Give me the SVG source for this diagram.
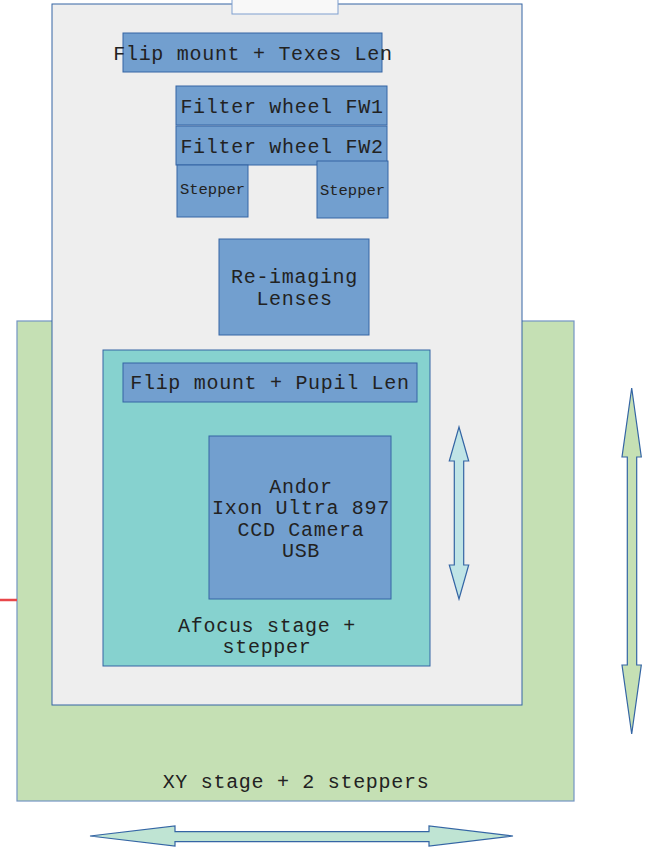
<svg xmlns="http://www.w3.org/2000/svg" width="648" height="847" viewBox="0 0 648 847">
<style>
.lbl{font-family:"Liberation Mono","DejaVu Sans Mono",monospace;font-size:20px;letter-spacing:0.7px;fill:#222222;text-anchor:middle}
.sm{font-family:"Liberation Mono","DejaVu Sans Mono",monospace;font-size:15.5px;fill:#222222;text-anchor:middle}
.blue{fill:#729fcf;stroke:#3465a4;stroke-width:1}
.arrow{stroke:#3465a4;stroke-width:1.2;stroke-linejoin:miter}
</style>
<rect width="648" height="847" fill="#ffffff"/>
<g id="xy-stage">
<rect x="17" y="321" width="557" height="480" fill="#c5e0b4" stroke="#7394c4" stroke-width="1.2"/>
<text class="lbl" x="296" y="788">XY stage + 2 steppers</text>
</g>
<g id="housing">
<rect x="52" y="4" width="470" height="701" fill="#eeeeee" stroke="#3465a4" stroke-width="1"/>
</g>
<g id="tab">
<rect x="232" y="-1" width="106" height="15" fill="#f8f8f8" stroke="#7f9fcf" stroke-width="1"/>
</g>
<g id="flip-texes">
<rect class="blue" x="123" y="33" width="259" height="39"/>
<text class="lbl" x="253" y="60">Flip mount + Texes Len</text>
</g>
<g id="fw1">
<rect class="blue" x="176" y="86" width="211" height="39"/>
<text class="lbl" x="282" y="113">Filter wheel FW1</text>
</g>
<g id="fw2">
<rect class="blue" x="176" y="126" width="211" height="39"/>
<text class="lbl" x="282" y="153">Filter wheel FW2</text>
</g>
<g id="stepper-left">
<rect class="blue" x="177" y="165" width="71" height="52"/>
<text class="sm" x="212.5" y="194">Stepper</text>
</g>
<g id="stepper-right">
<rect class="blue" x="317" y="161" width="71" height="57"/>
<text class="sm" x="352.5" y="195">Stepper</text>
</g>
<g id="reimaging">
<rect class="blue" x="219" y="239" width="150" height="96"/>
<text class="lbl" x="294.5" y="283">Re-imaging</text>
<text class="lbl" x="294.5" y="305">Lenses</text>
</g>
<g id="afocus-stage">
<rect x="103" y="350" width="327" height="316" fill="#86d2cf" stroke="#3465a4" stroke-width="1"/>
<text class="lbl" x="267" y="632">Afocus stage +</text>
<text class="lbl" x="267" y="653">stepper</text>
</g>
<g id="flip-pupil">
<rect class="blue" x="123" y="363" width="294" height="39"/>
<text class="lbl" x="270" y="389">Flip mount + Pupil Len</text>
</g>
<g id="camera">
<rect class="blue" x="209" y="436" width="182" height="163"/>
<text class="lbl" x="301" y="493">Andor</text>
<text class="lbl" x="301" y="514">Ixon Ultra 897</text>
<text class="lbl" x="301" y="536">CCD Camera</text>
<text class="lbl" x="301" y="557">USB</text>
</g>
<g id="connectors">
<line x1="0" y1="600" x2="17" y2="600" stroke="#e8474a" stroke-width="2.5"/>
<polygon class="arrow" fill="#bfe4e6" points="459,427 468.7,461 463.7,461 463.7,565 468.7,565 459,599 449.3,565 454.3,565 454.3,461 449.3,461"/>
<polygon class="arrow" fill="#c5e0b4" points="631.7,388 641.3,457 636.7,457 636.7,665 641.3,665 631.7,734 622,665 627.3,665 627.3,457 622,457"/>
<polygon class="arrow" fill="#bfe4d3" points="90,836 175,826 175,831.7 429,831.7 429,826 513,836 429,846 429,841.7 175,841.7 175,846"/>
</g>
</svg>
